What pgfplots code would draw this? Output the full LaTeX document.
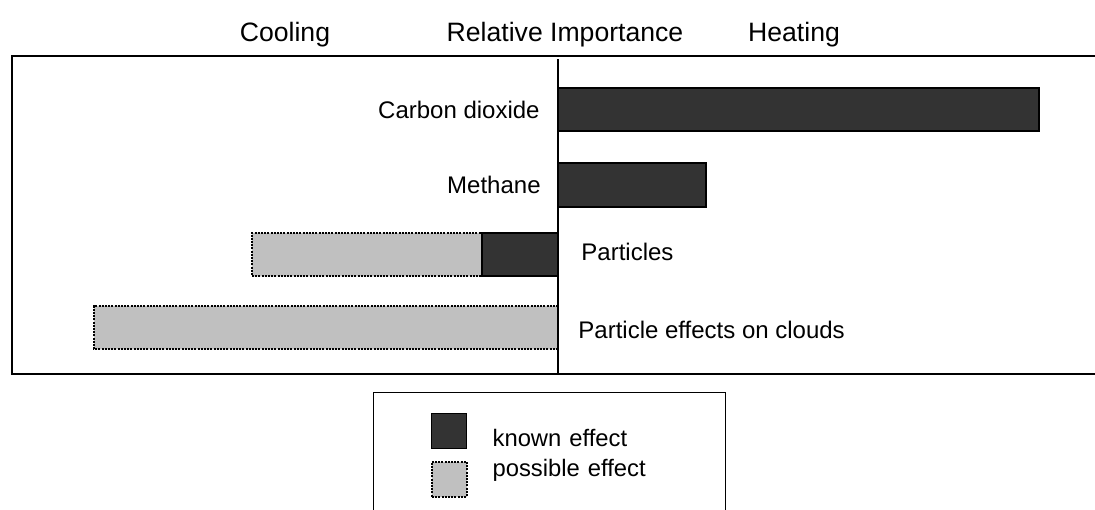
\documentclass[border=0pt]{standalone}
\usepackage{pgfplots}
\pgfplotsset{compat=1.18}
\usepackage{fontspec}
\setmainfont{Liberation Sans}
\definecolor{known}{HTML}{333333}
\definecolor{possible}{HTML}{C0C0C0}
\begin{document}
\begin{tikzpicture}
\useasboundingbox (0pt,0pt) rectangle (547.5pt,-254.5pt);
\begin{axis}[
  at={(6pt,-187pt)}, anchor=south west,
  scale only axis, width=549pt, height=159pt,
  xmin=-546, xmax=552, ymin=-374, ymax=-56,
  axis line style={line width=1pt},
  ticks=none,
  clip=false,
  reverse legend,
  legend cell align=left,
  legend style={
    at={(0.3288,-0.0566)}, anchor=north west,
    draw=black, line width=0.6pt,
    inner xsep=28.5pt, inner ysep=26.5pt,
    row sep=14pt, column sep=12.5pt,
    nodes={inner sep=0pt, text height=0pt, text depth=0pt, text width=88pt,
           font=\fontsize{11.9}{14}\selectfont},
  },
]
% possible effect (drawn first, underneath)
\addplot[xbar, bar shift=0pt, bar width=43.5, fill=possible, draw=black,
  line width=1pt, dash pattern=on 1pt off 0.6pt,
  legend image code/.code={
    \path (0pt,0pt) -- (17.5pt,0pt);
    \draw[overlay, fill=possible, draw=black, line width=0.9pt, dash pattern=on 1pt off 0.6pt]
      (0pt,-10pt) rectangle (17.5pt,7.5pt);
  }]
  coordinates {(-306,-254.5) (-464,-327.5)};
\addlegendentry{possible effect}
% known effect
\addplot[xbar, bar shift=0pt, bar width=43.5, fill=known, draw=black, line width=0.8pt,
  legend image code/.code={
    \path (0pt,0pt) -- (17.5pt,0pt);
    \draw[overlay, fill=known, draw=black, line width=0.8pt, solid]
      (0pt,-1pt) rectangle (17.5pt,16.5pt);
  }]
  coordinates {(481,-109.5) (148,-185) (-76,-254.5)};
\addlegendentry{known effect}
% centre line
\addplot[black, line width=1pt, forget plot, mark=none] coordinates {(0,-59) (0,-374)};
% bar labels
\begin{scope}[every node/.style={inner sep=0pt, font=\fontsize{12}{14}\selectfont}]
\node[anchor=east] at (axis cs:-18,-109.5) {Carbon dioxide};
\node[anchor=east] at (axis cs:-17,-185) {Methane};
\node[anchor=west] at (axis cs:23,-252) {Particles};
\node[anchor=west] at (axis cs:20,-330) {Particle effects on clouds};
\end{scope}
% titles
\begin{scope}[every node/.style={inner sep=0pt, font=\fontsize{13.3}{16}\selectfont}]
\node[anchor=base] at (axis cs:-273,-41) {Cooling};
\node[anchor=base] at (axis cs:7,-41) {Relative Importance};
\node[anchor=base] at (axis cs:236,-41) {Heating};
\end{scope}
\end{axis}
\end{tikzpicture}
\end{document}
